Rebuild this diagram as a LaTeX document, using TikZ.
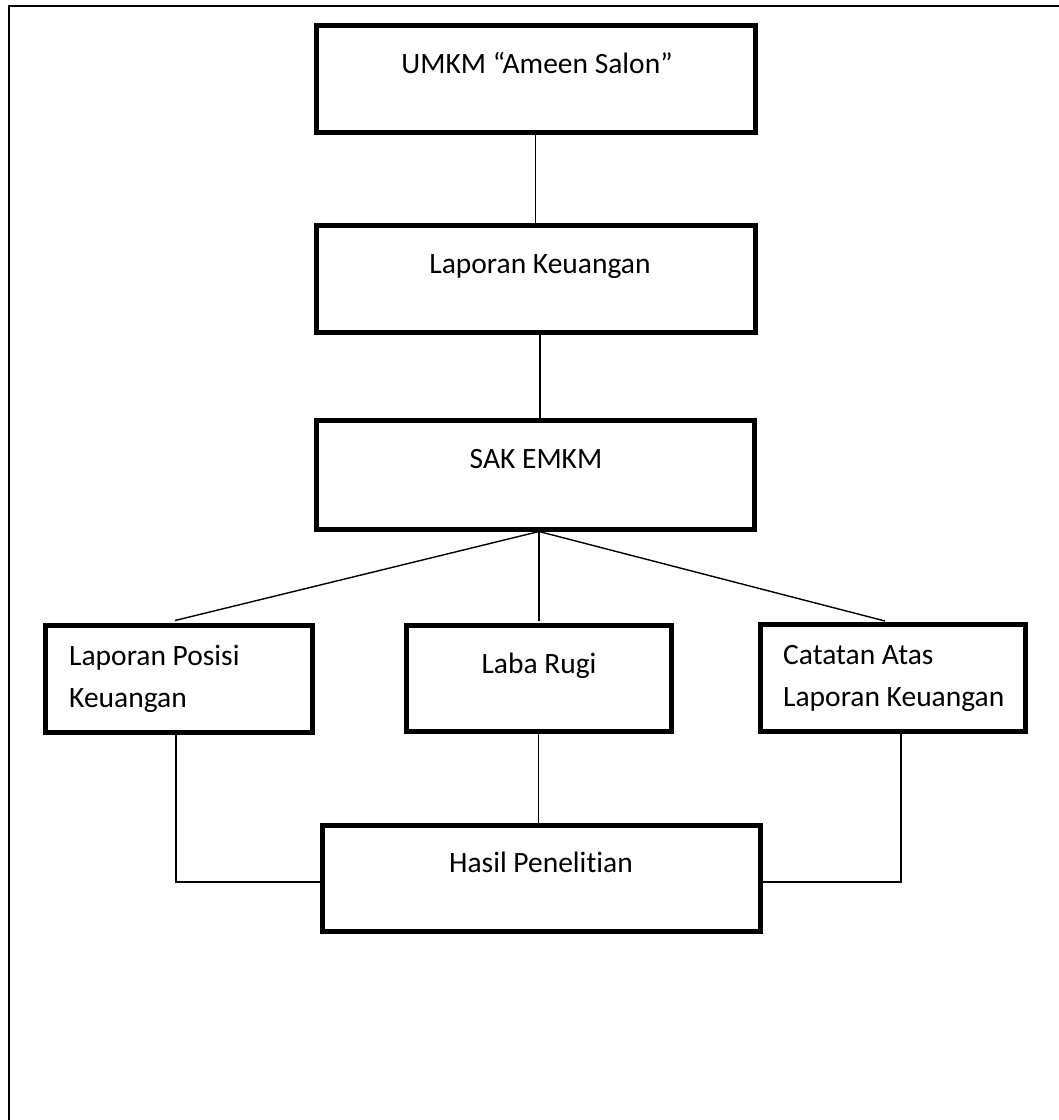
\documentclass[tikz,border=0pt]{standalone}
\usepackage{fontspec}
\setmainfont[Ligatures=NoCommon]{Carlito}
\usetikzlibrary{calc}
\begin{document}
\begin{tikzpicture}[x=1pt,y=-1pt,
  boxnode/.style={draw=black,line width=5pt,rectangle,inner sep=0pt,fill=white},
  txt/.style={inner sep=0pt,font=\fontsize{29.5pt}{35pt}\selectfont,text=black},
  conn/.style={draw=black,line width=1.4pt},
  framebox/.style={draw=black,line width=2.8pt}]
\useasboundingbox (0,0) rectangle (1059,1120);
\fill[white] (0,0) rectangle (1059,1120);
\draw[framebox] (9,1120) -- (9,6) -- (1059,6);
% boxes
\node[boxnode,minimum width=439pt,minimum height=107pt] (b1) at (535.5,78.5) {};
\node[boxnode,minimum width=439pt,minimum height=107pt] (b2) at (535.5,278.5) {};
\node[boxnode,minimum width=438pt,minimum height=109pt] (b3) at (535,474.5) {};
\node[boxnode,minimum width=267pt,minimum height=107pt] (lp) at (179,678.5) {};
\node[boxnode,minimum width=265pt,minimum height=106pt] (lr) at (538.5,678) {};
\node[boxnode,minimum width=265pt,minimum height=107pt] (ca) at (893,678) {};
\node[boxnode,minimum width=438pt,minimum height=106pt] (hp) at (541,878) {};
% texts
\node[txt,anchor=base] (t1) at (537,73) {UMKM “Ameen Salon”};
\node[txt,anchor=base] (t2) at (540,273) {Laporan Keuangan};
\node[txt,anchor=base] (t3) at (536,468) {SAK EMKM};
\node[txt,anchor=base west] (t4a) at (69,665) {Laporan Posisi};
\node[txt,anchor=base west] (t4b) at (69,707) {Keuangan};
\node[txt,anchor=base] (t5) at (539,673) {Laba Rugi};
\node[txt,anchor=base west] (t6a) at (783,664) {Catatan Atas};
\node[txt,anchor=base west] (t6b) at (783,706) {Laporan Keuangan};
\node[txt,anchor=base] (t7) at (541,872) {Hasil Penelitian};
% connectors
\draw[conn] (b1.south) -- (b1.south |- b2.north);
\draw[conn] ([xshift=4.5pt]b2.south) -- ([xshift=4.5pt]b2.south |- b3.north);
\coordinate (apex) at ([xshift=4pt]b3.south);
\draw[conn] (apex) -- ([xshift=-4pt,yshift=2pt]lp.north);
\draw[conn] (apex) -- ([yshift=2pt]apex |- lr.north);
\draw[conn] (apex) -- ([xshift=-8pt,yshift=1pt]ca.north);
\draw[conn] ([xshift=-3pt]lp.south) |- ([yshift=-4pt]hp.west);
\draw[conn] (lr.south) -- (lr.south |- hp.north);
\draw[conn] ([xshift=8pt]ca.south) |- ([yshift=-4pt]hp.east);
\end{tikzpicture}
\end{document}
